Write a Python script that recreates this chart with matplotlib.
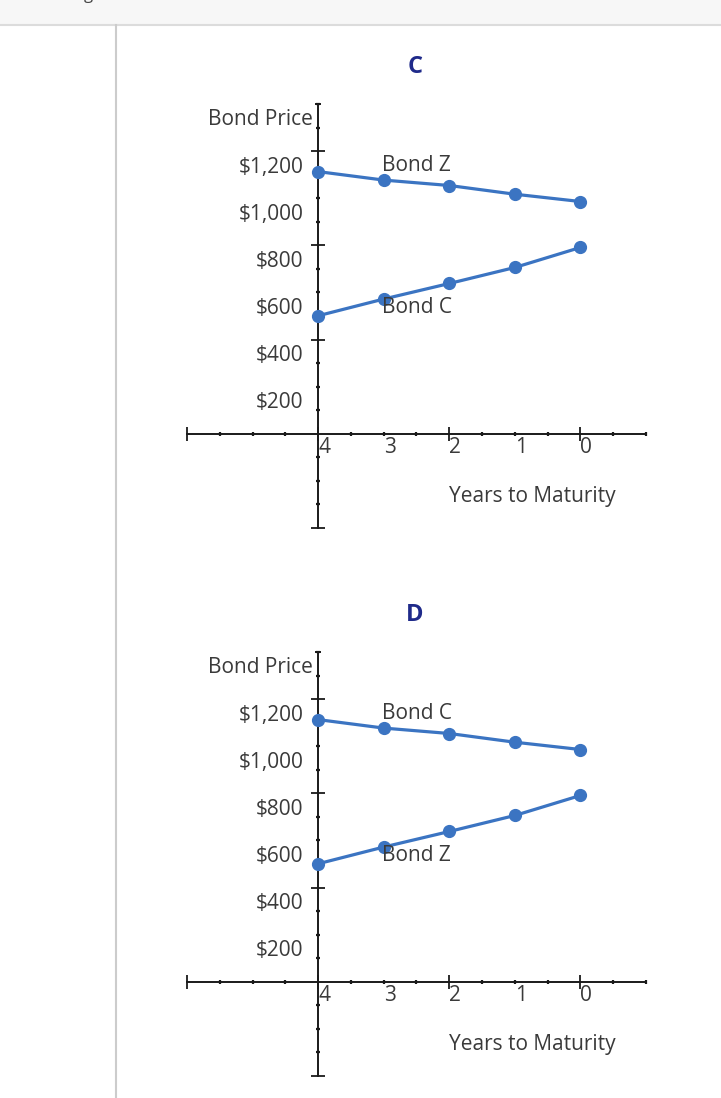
import matplotlib
matplotlib.use("Agg")
import matplotlib.pyplot as plt
from matplotlib.transforms import offset_copy
from matplotlib.patches import Rectangle
from matplotlib.lines import Line2D

# ---- data ----
years = [4, 3, 2, 1, 0]
upper_prices = [1113, 1077, 1054, 1017, 986]
lower_prices = [501, 572, 638, 706, 791]
panel_titles = ["C", "D"]
upper_names = ["Bond Z", "Bond C"]
lower_names = ["Bond C", "Bond Z"]
x_tick_labels = ["4", "3", "2", "1", "0"]
y_tick_values = [200, 400, 600, 800, 1000, 1200]
y_tick_labels = ["$200", "$400", "$600", "$800", "$1,000", "$1,200"]
x_major = [6, 4, 2, 0]
x_minor = [5.5, 5, 4.5, 3.5, 3, 2.5, 1.5, 1, 0.5, -0.5, -1]
y_major = [-400, 400, 800, 1200]
y_minor = [v for v in range(-300, 1500, 100) if v not in (0, 400, 800, 1200)]

W, H = 721, 1098
DPI = 100
fig = plt.figure(figsize=(W / DPI, H / DPI), dpi=DPI)
fig.patch.set_facecolor("white")

FONT = "Open Sans"
FS = 15
LINE_C = "#3b74c2"
TXT = "#3a3a3a"

# page chrome
fig.add_artist(Rectangle((0, 1 - 24 / H), 1, 24 / H, transform=fig.transFigure,
                         facecolor="#f7f7f7", edgecolor="none", zorder=0))
fig.add_artist(Line2D([0, 1], [1 - 24.5 / H] * 2, transform=fig.transFigure,
                      color="#dcdcdc", lw=1.5))
fig.add_artist(Line2D([115.5 / W] * 2, [0, 1 - 25 / H], transform=fig.transFigure,
                      color="#cccccc", lw=1.5))
fig.text(84 / W, 1 + 1 / H, "g", fontsize=12, color="#444444", va="baseline",
         family=FONT)

panels = [(104, 528), (652, 1076)]
title_y = [67, 615]

for i, (top, bot) in enumerate(panels):
    left, right = 187, 646
    ax = fig.add_axes([left / W, 1 - bot / H, (right - left) / W, (bot - top) / H])
    ax.set_xlim(6, -1)
    ax.set_ylim(-400, 1400)
    ax.patch.set_alpha(0)
    for s in ("top", "right"):
        ax.spines[s].set_visible(False)
    ax.spines["left"].set_position(("data", 4))
    ax.spines["bottom"].set_position(("data", 0))
    for s in ("left", "bottom"):
        ax.spines[s].set_linewidth(1.4)
        ax.spines[s].set_color("#1a1a1a")
    ax.set_xticks(x_major)
    ax.set_xticks(x_minor, minor=True)
    ax.set_yticks(y_major)
    ax.set_yticks(y_minor, minor=True)
    ax.set_xticklabels([])
    ax.set_yticklabels([])
    ax.tick_params(which="major", direction="inout", length=10, width=1.3, color="#1a1a1a")
    ax.tick_params(which="minor", direction="inout", length=3.5, width=1.6, color="#1a1a1a")
    # top cap of the vertical axis
    ax.plot([4], [1400], marker="_", ms=5, mew=1.4, color="#1a1a1a", clip_on=False)

    # data
    ax.plot(years, upper_prices, color=LINE_C, lw=2.3, marker="o", ms=8.5,
            clip_on=False, zorder=5)
    ax.plot(years, lower_prices, color=LINE_C, lw=2.3, marker="o", ms=8.5,
            clip_on=False, zorder=5)

    # tick labels
    ytr = offset_copy(ax.transData, fig=fig, x=-15, y=-16, units="dots")
    for v, lab in zip(y_tick_values, y_tick_labels):
        ax.text(4, v, lab, transform=ytr, ha="right", va="center",
                fontsize=FS, color=TXT, family=FONT)
    xtr = offset_copy(ax.transData, fig=fig, x=6, y=-14, units="dots")
    for xv, lab in zip(years, x_tick_labels):
        ax.text(xv, 0, lab, transform=xtr, ha="center", va="center",
                fontsize=FS, color=TXT, family=FONT)

    # axis labels
    ax.text(4, 1333, "Bond Price", transform=offset_copy(ax.transData, fig=fig, x=-5, y=0, units="dots"),
            ha="right", va="center", fontsize=FS, color=TXT, family=FONT)
    ax.text(2, -267, "Years to Maturity", ha="left", va="center",
            fontsize=FS, color=TXT, family=FONT)

    # series names
    ax.text(3, 1140, upper_names[i], ha="left", va="center", fontsize=FS,
            color=TXT, family=FONT, zorder=6,
            transform=offset_copy(ax.transData, fig=fig, x=-2, y=0, units="dots"))
    ax.text(3, 536, lower_names[i], ha="left", va="center", fontsize=FS,
            color=TXT, family=FONT, zorder=6,
            transform=offset_copy(ax.transData, fig=fig, x=-2, y=0, units="dots"))

    fig.text(415 / W, 1 - title_y[i] / H, panel_titles[i], ha="center", va="center",
             fontsize=17, color="#1f2a8a", family=FONT, fontweight="bold")

fig.savefig("out.png", dpi=DPI)
